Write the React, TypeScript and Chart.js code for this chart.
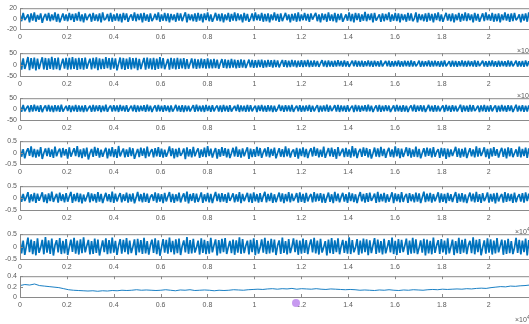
import React, { useEffect, useRef } from "react";
import { Chart, registerables } from "chart.js";
Chart.register(...registerables);

// ---------- data ----------
const X_MAX = 2.3;
const X_TICKS = [0, 0.2, 0.4, 0.6, 0.8, 1, 1.2, 1.4, 1.6, 1.8, 2, 2.2];
const X_TICK_LABELS = ["0", "0.2", "0.4", "0.6", "0.8", "1", "1.2", "1.4", "1.6", "1.8", "2", "2.2"];

const Y_TICKS_1 = [-20, 0, 20];
const Y_LABELS_1 = ["-20", "0", "20"];
const Y_TICKS_2 = [-50, 0, 50];
const Y_LABELS_2 = ["-50", "0", "50"];
const Y_TICKS_3 = [-50, 0, 50];
const Y_LABELS_3 = ["-50", "0", "50"];
const Y_TICKS_4 = [-0.5, 0, 0.5];
const Y_LABELS_4 = ["-0.5", "0", "0.5"];
const Y_TICKS_5 = [-0.5, 0, 0.5];
const Y_LABELS_5 = ["-0.5", "0", "0.5"];
const Y_TICKS_6 = [-0.5, 0, 0.5];
const Y_LABELS_6 = ["-0.5", "0", "0.5"];
const Y_TICKS_7 = [0, 0.2, 0.4];
const Y_LABELS_7 = ["0", "0.2", "0.4"];

const SIG_1 = [
  9,-5,11,-3,2,8,-7,10,-4,12,-6,7,-2,10,-8,3,9,-4,11,-5,
  8,-3,12,-6,9,-7,1,10,-4,8,-5,11,-3,9,-6,10,-4,13,-5,8,
  -7,10,-3,4,9,-6,11,-4,8,-5,10,-7,12,-3,0,9,-5,11,-6,8,
  -4,10,-5,9,-7,11,-3,10,-6,3,8,-4,12,-5,9,-3,10,-7,11,-4,
  8,-6,10,-5,1,9,-3,12,-6,8,-4,11,-5,10,-7,9,-3,8,-6,11,
  -4,10,-5,4,12,-7,9,-3,8,-5,10,-6,11,-4,9,-7,10,-3,12,-5,
  8,-6,2,11,-4,9,-5,10,-7,8,-3,11,-6,9,-4,12,-5,10,-3,8,
  -7,11,-4,9,-6,0,10,-5,12,-3,8,-4,11,-6,9,-5,10,-7,8,-3,
  12,-4,9,-6,10,-5,3,11,-3,8,-7,9,-4,10,-6,12,-5,8,-3,11,
  -4,9,-6,10,-2,5,11,-5,8,-7,10,-3,9,-6,12,-4,8,-5,11,-7,
  9,-3,10,-6,1,8,-4,12,-5,9,-7,11,-3,10,-6,8,-4,13,-5,9,
  -3,10,-7,11,-4,2,8,-6,10,-5,9,-3,12,-6,8,-4,11,-5,10,-7,
  9,-3,8,-6,11,-4,10,-5,0,12,-7,9,-3,8,-5,10,-6,11,-4,9,
  -7,10,-3,12,-5,8,-6,3,11,-4,9,-5,10,-7,8,-3,11,-6,9,-4,
  12,-5,10,-3,8,-7,11,-4,9,-6,2,10,-5,12,-3,8,-4,11,-6,9,
  -5,10,-7,8,-3,12,-4,9,-6,10,-5,11,-3,1,8,-7,9,-4,10,-6,
  12,-5,8,-3,11,-4,9,-6,10,-7,8,-2,11,-5,9,-4,12,-6,10,-3,
];

const SIG_2 = [
  30,-22,27,-19,5,33,-24,28,-18,31,-25,26,-20,8,32,-21,29,-23,27,-19,
  34,-22,28,-20,31,-24,2,26,-18,30,-22,29,-21,33,-19,27,-23,30,-20,28,
  -22,31,-18,6,26,-21,29,-17,32,-24,27,-20,25,-19,33,-16,28,-22,30,-18,
  27,-25,4,31,-20,29,-23,26,-19,32,-21,28,-17,30,-24,25,-20,7,29,-22,
  31,-18,27,-21,30,-23,26,-19,33,-17,28,-20,3,25,-22,29,-18,27,-21,30,
  -19,26,-17,28,-20,24,-18,5,27,-16,25,-19,23,-17,26,-15,24,-18,27,-16,
  23,-17,25,-15,22,-18,6,24,-14,23,-16,21,-15,25,-13,22,-16,20,-14,23,
  -13,21,-15,4,22,-12,20,-14,19,-13,21,-11,22,-14,18,-12,20,-10,19,-13,
  21,-11,18,-12,5,20,-10,19,-12,17,-11,20,-9,18,-12,17,-10,19,-11,18,
  -9,20,-11,17,-10,18,-8,16,-10,6,19,-9,17,-11,18,-8,16,-10,17,-9,
  19,-7,16,-9,18,-8,15,-10,4,17,-7,18,-9,16,-8,17,-10,15,-7,18,
  -8,16,-10,17,-7,15,-9,18,-8,5,16,-7,17,-10,15,-8,16,-7,18,-9,
  15,-8,17,-7,16,-9,18,-8,15,-7,3,17,-10,16,-8,15,-7,18,-9,16,
  -8,17,-7,15,-10,16,-8,18,-7,4,15,-9,17,-8,16,-10,15,-7,18,-8,
  16,-9,17,-7,15,-8,18,-10,16,-7,5,17,-8,15,-9,16,-7,18,-8,15,
  -10,17,-8,16,-7,15,-9,18,-8,16,-7,4,17,-9,15,-8,16,-10,18,-7,
  15,-8,17,-9,16,-7,18,-8,15,-10,17,-7,16,-9,3,15,-8,17,-7,16,
];

const SIG_3 = [
  17,-12,19,-10,3,16,-13,18,-11,20,-9,15,-12,18,-14,5,17,-10,19,-11,
  16,-13,18,-10,17,-12,20,-11,2,15,-9,18,-13,16,-10,19,-12,17,-11,15,
  -14,18,-10,4,16,-12,19,-11,17,-9,18,-13,15,-10,20,-12,6,16,-11,18,
  -10,17,-13,19,-9,15,-11,18,-12,3,16,-10,19,-13,17,-11,15,-9,18,-12,
  20,-10,16,-13,5,17,-11,19,-10,16,-12,18,-9,15,-13,17,-11,2,19,-10,
  16,-12,18,-14,17,-10,15,-11,4,18,-12,20,-10,16,-11,17,-13,19,-9,15,
  -12,18,-10,6,16,-11,17,-13,19,-10,16,-12,18,-11,3,15,-9,20,-13,17,
  -10,16,-12,19,-11,18,-10,5,15,-13,17,-9,19,-11,16,-12,18,-10,17,-13,
  15,-11,2,20,-9,16,-12,18,-10,17,-11,19,-13,4,16,-10,18,-12,15,-11,
  17,-9,19,-12,16,-10,6,18,-13,15,-11,17,-10,20,-12,16,-9,3,18,-11,
  19,-13,17,-10,15,-12,18,-11,5,16,-14,19,-10,17,-12,15,-9,18,-11,20,
  -10,16,-13,4,17,-11,19,-12,15,-10,18,-9,16,-13,2,17,-11,19,-10,16,
  -12,18,-11,15,-13,6,17,-10,20,-12,16,-9,18,-11,17,-13,3,19,-10,15,
  -12,18,-11,16,-10,5,17,-13,19,-9,15,-12,18,-10,16,-11,4,20,-13,17,
  -10,15,-12,19,-11,18,-9,2,16,-13,17,-10,19,-12,15,-11,18,-10,6,17,
  -13,16,-11,19,-10,15,-12,18,-9,17,-13,3,20,-11,16,-10,18,-12,15,-11,
  17,-9,5,19,-12,16,-10,18,-13,15,-11,17,-10,4,19,-12,16,-9,18,-11,
];

const SIG_4 = [
  0.22,-0.18,0.15,-0.25,0.03,0.19,-0.14,0.27,-0.2,0.16,-0.22,0.13,-0.17,0.24,-0.28,-0.02,0.18,-0.15,0.21,-0.19,
  0.14,-0.23,0.26,-0.16,0.05,0.17,-0.21,0.2,-0.13,0.15,-0.26,0.23,-0.18,0.01,0.19,-0.15,0.28,-0.2,0.14,-0.24,
  0.18,-0.17,0.22,-0.3,-0.03,0.16,-0.19,0.25,-0.14,0.2,-0.22,0.13,-0.18,0.04,0.21,-0.25,0.17,-0.16,0.24,-0.2,
  0.15,-0.23,0.29,-0.17,0.02,0.18,-0.21,0.14,-0.19,0.23,-0.15,0.19,-0.27,-0.04,0.16,-0.2,0.22,-0.14,0.18,-0.24,
  0.26,-0.17,0.03,0.15,-0.21,0.2,-0.16,0.24,-0.19,0.17,-0.22,0.13,-0.18,0.01,0.27,-0.15,0.19,-0.25,0.16,-0.2,
  0.21,-0.14,-0.02,0.18,-0.29,0.23,-0.17,0.15,-0.21,0.25,-0.16,0.04,0.19,-0.23,0.14,-0.18,0.22,-0.2,0.28,-0.15,
  0.17,-0.22,0.02,0.2,-0.26,0.15,-0.18,0.24,-0.14,0.19,-0.21,0.16,-0.24,-0.03,0.21,-0.17,0.26,-0.19,0.14,-0.22,
  0.18,-0.16,0.05,0.23,-0.28,0.17,-0.2,0.15,-0.19,0.25,-0.15,0.2,-0.23,0.01,0.18,-0.17,0.24,-0.21,0.16,-0.14,
  0.22,-0.25,-0.02,0.19,-0.18,0.15,-0.2,0.27,-0.16,0.18,-0.22,0.03,0.14,-0.19,0.21,-0.26,0.17,-0.15,0.23,-0.2,
  0.16,-0.24,0.04,0.19,-0.17,0.25,-0.14,0.18,-0.21,0.13,-0.18,0.26,-0.23,-0.01,0.2,-0.16,0.22,-0.19,0.15,-0.27,
  0.24,-0.15,0.02,0.17,-0.2,0.21,-0.18,0.14,-0.22,0.28,-0.16,0.19,-0.24,0.03,0.16,-0.19,0.23,-0.14,0.2,-0.21,
  0.15,-0.26,-0.03,0.22,-0.17,0.18,-0.2,0.25,-0.15,0.16,-0.23,0.04,0.21,-0.18,0.14,-0.21,0.27,-0.16,0.19,-0.24,
  0.17,-0.19,0.01,0.23,-0.15,0.2,-0.22,0.14,-0.18,0.26,-0.2,0.16,-0.25,-0.02,0.19,-0.17,0.22,-0.14,0.18,-0.21,
  0.24,-0.18,0.03,0.15,-0.23,0.21,-0.16,0.19,-0.28,0.17,-0.2,0.14,-0.15,0.05,0.25,-0.19,0.18,-0.22,0.16,-0.17,
  0.22,-0.24,-0.01,0.19,-0.16,0.14,-0.21,0.27,-0.18,0.2,-0.15,0.02,0.23,-0.2,0.16,-0.26,0.18,-0.17,0.24,-0.14,
  0.15,-0.22,0.04,0.21,-0.19,0.17,-0.25,0.23,-0.16,0.19,-0.2,-0.03,0.14,-0.18,0.26,-0.21,0.16,-0.15,0.22,-0.23,
  0.18,-0.17,0.02,0.25,-0.2,0.15,-0.24,0.21,-0.14,0.19,-0.22,0.17,-0.16,0.03,0.23,-0.19,0.16,-0.25,0.2,-0.18,
];

const SIG_5 = [
  0.21,-0.16,0.18,-0.12,0.04,0.25,-0.19,0.16,-0.14,0.22,-0.2,0.19,-0.11,0.06,0.24,-0.17,0.15,-0.21,0.2,-0.13,
  0.27,-0.16,0.02,0.18,-0.19,0.23,-0.12,0.16,-0.18,0.21,-0.15,0.07,0.26,-0.2,0.17,-0.13,0.22,-0.17,0.19,-0.22,
  0.15,-0.14,0.05,0.24,-0.18,0.2,-0.12,0.17,-0.19,0.25,-0.15,0.18,-0.21,0.03,0.22,-0.13,0.16,-0.17,0.27,-0.2,
  0.19,-0.14,0.06,0.21,-0.18,0.16,-0.12,0.23,-0.19,0.18,-0.15,0.2,-0.22,0.01,0.26,-0.13,0.17,-0.18,0.22,-0.16,
  0.19,-0.2,0.05,0.15,-0.12,0.24,-0.19,0.2,-0.15,0.17,-0.21,0.22,-0.14,0.07,0.25,-0.17,0.18,-0.2,0.16,-0.13,
  0.23,-0.18,0.04,0.2,-0.15,0.27,-0.22,0.17,-0.12,0.21,-0.19,0.19,-0.16,0.02,0.24,-0.2,0.16,-0.14,0.22,-0.18,
  0.18,-0.21,0.06,0.26,-0.13,0.19,-0.17,0.21,-0.15,0.17,-0.2,0.23,-0.12,0.03,0.2,-0.18,0.16,-0.15,0.25,-0.21,
  0.18,-0.13,0.05,0.22,-0.17,0.19,-0.2,0.24,-0.14,0.17,-0.19,0.21,-0.16,0.08,0.26,-0.18,0.18,-0.13,0.22,-0.2,
  0.16,-0.17,0.04,0.23,-0.15,0.2,-0.21,0.17,-0.14,0.25,-0.18,0.19,-0.12,0.02,0.21,-0.19,0.24,-0.16,0.18,-0.2,
  0.22,-0.14,0.06,0.17,-0.18,0.25,-0.15,0.19,-0.12,0.21,-0.19,0.18,-0.2,0.03,0.23,-0.16,0.16,-0.21,0.26,-0.13,
  0.19,-0.18,0.05,0.22,-0.15,0.17,-0.2,0.24,-0.13,0.2,-0.17,0.16,-0.21,0.07,0.25,-0.14,0.18,-0.19,0.21,-0.16,
  0.23,-0.12,0.02,0.19,-0.2,0.26,-0.17,0.18,-0.14,0.22,-0.19,0.16,-0.15,0.04,0.24,-0.21,0.2,-0.13,0.17,-0.18,
  0.25,-0.16,0.06,0.18,-0.2,0.21,-0.13,0.16,-0.18,0.23,-0.15,0.2,-0.21,0.03,0.27,-0.17,0.19,-0.14,0.22,-0.19,
  0.17,-0.13,0.05,0.24,-0.19,0.2,-0.16,0.18,-0.21,0.22,-0.12,0.16,-0.17,0.08,0.25,-0.2,0.19,-0.15,0.21,-0.18,
  0.16,-0.21,0.04,0.23,-0.14,0.19,-0.18,0.26,-0.16,0.17,-0.2,0.21,-0.13,0.02,0.24,-0.19,0.18,-0.15,0.2,-0.22,
  0.22,-0.14,0.06,0.17,-0.19,0.25,-0.16,0.2,-0.12,0.18,-0.2,0.23,-0.17,0.05,0.16,-0.15,0.21,-0.19,0.24,-0.13,
  0.19,-0.18,0.03,0.22,-0.2,0.17,-0.14,0.25,-0.16,0.2,-0.19,0.18,-0.15,0.06,0.23,-0.17,0.16,-0.21,0.2,-0.14,
];

const SIG_6 = [
  0.31,-0.27,0.24,-0.33,0.02,0.36,-0.22,0.28,-0.3,0.22,-0.35,0.33,-0.25,-0.04,0.27,-0.31,0.38,-0.24,0.25,-0.29,
  0.32,-0.36,0.05,0.26,-0.23,0.34,-0.3,0.23,-0.27,0.3,-0.34,-0.02,0.28,-0.21,0.35,-0.28,0.24,-0.32,0.29,-0.26,
  0.37,-0.23,0.03,0.27,-0.31,0.22,-0.29,0.32,-0.25,0.28,-0.36,-0.05,0.25,-0.22,0.33,-0.3,0.26,-0.27,0.36,-0.24,
  0.23,-0.33,0.04,0.3,-0.28,0.27,-0.22,0.34,-0.31,0.24,-0.26,-0.01,0.29,-0.35,0.31,-0.23,0.26,-0.29,0.35,-0.27,
  0.22,-0.32,0.06,0.28,-0.25,0.33,-0.3,0.25,-0.37,-0.03,0.3,-0.24,0.27,-0.28,0.36,-0.22,0.23,-0.31,0.29,-0.26,
  0.32,-0.34,0.02,0.25,-0.23,0.38,-0.29,0.26,-0.27,0.31,-0.24,-0.04,0.24,-0.32,0.33,-0.25,0.27,-0.3,0.22,-0.28,
  0.35,-0.23,0.05,0.29,-0.36,0.26,-0.27,0.31,-0.22,0.34,-0.3,-0.02,0.23,-0.26,0.28,-0.33,0.25,-0.24,0.37,-0.29,
  0.3,-0.26,0.03,0.24,-0.31,0.27,-0.22,0.33,-0.35,0.26,-0.28,-0.05,0.29,-0.24,0.35,-0.3,0.23,-0.27,0.31,-0.23,
  0.28,-0.34,0.04,0.25,-0.29,0.36,-0.25,0.22,-0.31,0.3,-0.26,-0.01,0.33,-0.22,0.27,-0.33,0.24,-0.28,0.32,-0.25,
  0.26,-0.3,0.06,0.29,-0.23,0.35,-0.27,0.24,-0.32,0.31,-0.24,-0.03,0.22,-0.36,0.28,-0.26,0.34,-0.29,0.25,-0.22,
  0.33,-0.31,0.02,0.27,-0.25,0.23,-0.28,0.37,-0.3,0.26,-0.23,-0.04,0.3,-0.33,0.24,-0.27,0.32,-0.22,0.29,-0.35,
  0.25,-0.26,0.05,0.34,-0.29,0.28,-0.24,0.22,-0.31,0.31,-0.27,-0.02,0.26,-0.23,0.36,-0.3,0.23,-0.34,0.3,-0.25,
  0.27,-0.22,0.03,0.32,-0.33,0.24,-0.28,0.35,-0.26,0.29,-0.3,-0.05,0.25,-0.24,0.31,-0.36,0.28,-0.27,0.23,-0.31,
  0.36,-0.25,0.04,0.26,-0.29,0.3,-0.23,0.24,-0.32,0.33,-0.27,-0.01,0.28,-0.34,0.22,-0.26,0.35,-0.29,0.27,-0.24,
  0.31,-0.3,0.06,0.23,-0.26,0.37,-0.31,0.27,-0.22,0.3,-0.35,-0.03,0.25,-0.28,0.33,-0.24,0.29,-0.32,0.24,-0.27,
  0.34,-0.23,0.02,0.28,-0.33,0.25,-0.29,0.31,-0.26,0.22,-0.3,-0.04,0.35,-0.25,0.27,-0.31,0.24,-0.22,0.32,-0.36,
  0.26,-0.28,0.05,0.3,-0.24,0.33,-0.27,0.23,-0.32,0.29,-0.25,-0.02,0.36,-0.3,0.25,-0.26,0.31,-0.29,0.24,-0.33,
];

const SIG_7 = [
  0.22,0.24,0.23,0.25,0.22,0.21,
  0.2,0.19,0.18,0.16,0.14,
  0.13,0.125,0.12,0.115,0.12,
  0.11,0.12,0.115,0.125,0.12,0.13,0.125,0.13,0.14,0.13,
  0.135,0.13,0.125,0.13,0.14,0.13,0.12,0.135,0.13,0.14,0.125,0.13,0.135,0.13,
  0.12,0.13,0.125,0.13,0.14,0.135,0.13,0.14,0.145,
  0.15,0.145,0.155,0.16,0.15,0.16,0.155,0.165,0.15,0.16,0.155,0.15,0.16,0.15,0.145,0.155,0.15,0.145,0.14,
  0.145,0.14,0.13,0.135,0.13,0.125,0.135,0.13,0.14,0.13,0.125,0.135,0.13,0.14,0.135,0.13,0.14,0.145,0.14,0.15,0.145,0.15,0.155,0.15,
  0.16,0.155,0.165,0.17,0.165,0.18,0.19,
  0.2,0.195,0.21,0.205,0.215,0.22,0.23,0.225,0.22,0.21,0.215,0.2,0.205,
];

// ---------- layout / style ----------
const FONT = '"Liberation Sans", Arial, sans-serif';
const LINE_COLOR = "#0072BD";
const AXIS_COLOR = "#8a8a8a";
const TEXT_COLOR = "#5a5a5a";
const CANVAS_W = 560;
const PAD_TOP = 6;
const X_AXIS_H = 16;
const Y_AXIS_W = 20;
const NOISE_LW = 1.7;

const PANELS = [
  { data: SIG_1, yMin: -20, yMax: 20, yTicks: Y_TICKS_1, yLabels: Y_LABELS_1, top: 7, bottom: 29, lw: NOISE_LW },
  { data: SIG_2, yMin: -50, yMax: 50, yTicks: Y_TICKS_2, yLabels: Y_LABELS_2, top: 52, bottom: 76, lw: NOISE_LW },
  { data: SIG_3, yMin: -50, yMax: 50, yTicks: Y_TICKS_3, yLabels: Y_LABELS_3, top: 97, bottom: 120, lw: NOISE_LW },
  { data: SIG_4, yMin: -0.5, yMax: 0.5, yTicks: Y_TICKS_4, yLabels: Y_LABELS_4, top: 140, bottom: 164, lw: NOISE_LW },
  { data: SIG_5, yMin: -0.5, yMax: 0.5, yTicks: Y_TICKS_5, yLabels: Y_LABELS_5, top: 185, bottom: 210, lw: NOISE_LW },
  { data: SIG_6, yMin: -0.5, yMax: 0.5, yTicks: Y_TICKS_6, yLabels: Y_LABELS_6, top: 233, bottom: 259, lw: NOISE_LW },
  { data: SIG_7, yMin: 0, yMax: 0.4, yTicks: Y_TICKS_7, yLabels: Y_LABELS_7, top: 275, bottom: 297, lw: 0.9 },
];

const EXPONENTS = [
  { left: 517, top: 44 },
  { left: 517, top: 89 },
  { left: 515, top: 225 },
  { left: 515, top: 313 },
];

const boxPlugin = {
  id: "matlabBox",
  afterDraw(chart: any) {
    const { ctx, chartArea } = chart;
    const { left, top, right, bottom } = chartArea;
    ctx.save();
    ctx.strokeStyle = AXIS_COLOR;
    ctx.lineWidth = 1;
    ctx.strokeRect(left + 0.5, top + 0.5, right - left, bottom - top);
    const xs = chart.scales.x;
    ctx.beginPath();
    for (const t of X_TICKS) {
      const px = Math.round(xs.getPixelForValue(t)) + 0.5;
      if (px < left || px > right) continue;
      ctx.moveTo(px, bottom);
      ctx.lineTo(px, bottom - 3);
      ctx.moveTo(px, top);
      ctx.lineTo(px, top + 3);
    }
    const ys = chart.scales.y;
    for (const tk of ys.ticks) {
      const py = Math.round(ys.getPixelForValue(tk.value)) + 0.5;
      ctx.moveTo(left, py);
      ctx.lineTo(left + 3, py);
    }
    ctx.stroke();
    ctx.restore();
  },
};

function Panel({ spec }: { spec: any }) {
  const ref = useRef<HTMLCanvasElement | null>(null);
  const h = spec.bottom - spec.top + PAD_TOP + X_AXIS_H;
  useEffect(() => {
    if (!ref.current) return;
    const n = spec.data.length;
    const points = spec.data.map((v: number, i: number) => ({ x: (i * X_MAX) / (n - 1), y: v }));
    const chart = new Chart(ref.current, {
      type: "line",
      data: {
        datasets: [
          {
            data: points,
            borderColor: LINE_COLOR,
            borderWidth: spec.lw,
            borderJoinStyle: "bevel",
            borderCapStyle: "butt",
            pointRadius: 0,
            tension: 0,
            fill: false,
          },
        ],
      },
      options: {
        responsive: false,
        animation: false,
        devicePixelRatio: 1,
        events: [],
        layout: { padding: { top: PAD_TOP, left: 0, right: 1, bottom: 0 }, autoPadding: false } as any,
        plugins: { legend: { display: false }, tooltip: { enabled: false } },
        scales: {
          x: {
            type: "linear",
            min: 0,
            max: X_MAX,
            grid: { display: false, drawTicks: false },
            border: { display: false },
            afterBuildTicks: (s: any) => {
              s.ticks = X_TICKS.map((v) => ({ value: v }));
            },
            afterFit: (s: any) => {
              s.height = X_AXIS_H;
            },
            ticks: {
              autoSkip: false,
              maxRotation: 0,
              padding: 4,
              color: TEXT_COLOR,
              font: { family: FONT, size: 7 },
              callback: (_v: any, i: number) => X_TICK_LABELS[i],
            },
          },
          y: {
            type: "linear",
            min: spec.yMin,
            max: spec.yMax,
            grid: { display: false, drawTicks: false },
            border: { display: false },
            afterBuildTicks: (s: any) => {
              s.ticks = spec.yTicks.map((v: number) => ({ value: v }));
            },
            afterFit: (s: any) => {
              s.width = Y_AXIS_W;
            },
            ticks: {
              autoSkip: false,
              padding: 3,
              color: TEXT_COLOR,
              font: { family: FONT, size: 7 },
              callback: (_v: any, i: number) => spec.yLabels[i],
            },
          },
        },
      },
      plugins: [boxPlugin],
    });
    return () => chart.destroy();
  }, [spec]);
  return (
    <canvas
      ref={ref}
      width={CANVAS_W}
      height={h}
      style={{ position: "absolute", left: 0, top: spec.top - PAD_TOP, width: CANVAS_W, height: h }}
    />
  );
}

export default function App() {
  return (
    <div
      style={{
        position: "fixed",
        left: 0,
        top: 0,
        width: 529,
        height: 324,
        overflow: "hidden",
        background: "#ffffff",
      }}
    >
      {PANELS.map((p, i) => (
        <Panel key={i} spec={p} />
      ))}
      {EXPONENTS.map((e, i) => (
        <span
          key={"e" + i}
          style={{
            position: "absolute",
            left: e.left,
            top: e.top,
            fontFamily: FONT,
            fontSize: 7,
            color: TEXT_COLOR,
            whiteSpace: "nowrap",
            lineHeight: "8px",
          }}
        >
          ×10<sup style={{ fontSize: 5, verticalAlign: "3px" }}>4</sup>
        </span>
      ))}
      <div
        style={{
          position: "absolute",
          left: 292,
          top: 299,
          width: 8,
          height: 8,
          borderRadius: 4,
          background: "#c79af0",
        }}
      />
    </div>
  );
}
